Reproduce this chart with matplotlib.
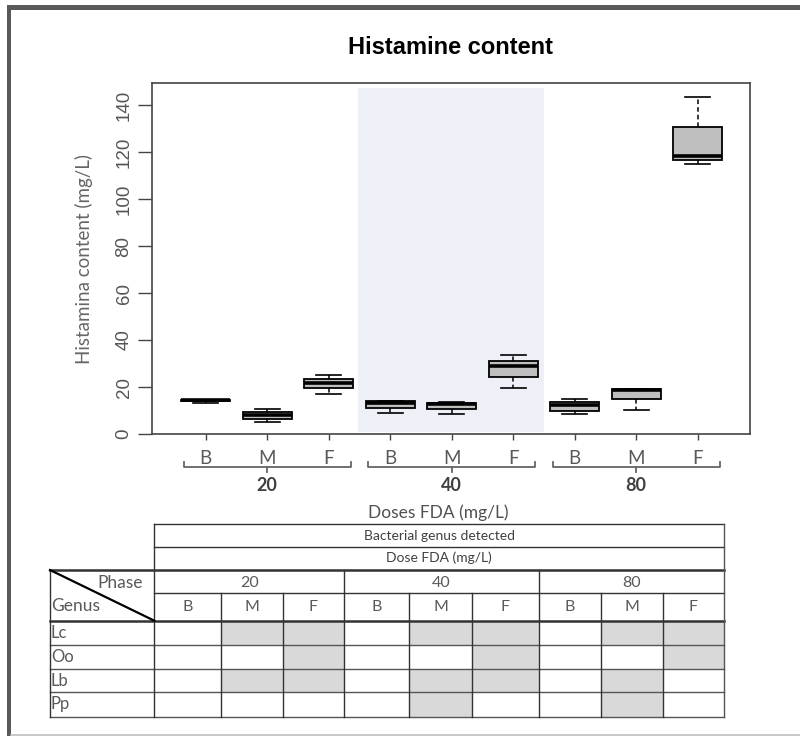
import matplotlib.pyplot as plt
from matplotlib.patches import Rectangle

# datos
doses = ["20", "40", "80"]
phases = ["B", "M", "F"]
q1 = [13.9, 6.2, 19.6, 11.1, 10.5, 24.3, 9.9, 14.8, 116.6]
med = [14.4, 8.2, 21.8, 13.3, 12.8, 28.9, 12.2, 18.9, 118.3]
q3 = [14.6, 9.4, 23.4, 13.9, 13.3, 31.1, 13.6, 19.0, 130.8]
whislo = [13.2, 5.1, 17.0, 9.1, 8.5, 19.6, 8.5, 10.2, 115.0]
whishi = [14.6, 10.8, 25.0, 13.9, 13.6, 33.5, 15.0, 19.0, 143.5]

genus = ["Lc", "Oo", "Lb", "Pp"]
detected = [
    [0, 1, 1, 0, 1, 1, 0, 1, 1],
    [0, 0, 1, 0, 0, 1, 0, 0, 1],
    [0, 1, 1, 0, 1, 1, 0, 1, 0],
    [0, 0, 0, 0, 1, 0, 0, 1, 0],
]

CAL = "Lato"
ARIAL = "Liberation Sans"
GRAY = "#595959"

fig = plt.figure(figsize=(8, 7.36), dpi=100)

# capa en pixeles para marco y tabla
ov = fig.add_axes([0, 0, 1, 1])
ov.set_xlim(0, 800)
ov.set_ylim(736, 0)
ov.axis("off")

# marco exterior
ov.add_patch(Rectangle((7, 5), 800, 5, color="#595959", lw=0))
ov.add_patch(Rectangle((7, 5), 4, 740, color="#595959", lw=0))
ov.plot([11, 800], [734.5, 734.5], color="#bdbdbd", lw=1.2)

# grafico de cajas
ax = fig.add_axes([152 / 800, 1 - 434 / 736, 598 / 800, 351 / 736])
pos = list(range(1, 10))
stats = []
for i in range(9):
    stats.append(dict(med=med[i], q1=q1[i], q3=q3[i], whislo=whislo[i],
                      whishi=whishi[i], fliers=[]))
ax.axvspan(3.48, 6.5, ymin=0.8 / 149.4, ymax=147.2 / 149.4, color="#edf0f7", lw=0, zorder=0)
ax.bxp(stats, positions=pos, widths=0.8, capwidths=0.41, patch_artist=True,
       boxprops=dict(facecolor="#bfbfbf", edgecolor="black", lw=1.3),
       medianprops=dict(color="black", lw=2.6),
       whiskerprops=dict(color="black", lw=1.1, ls=(0, (3, 2))),
       capprops=dict(color="black", lw=1.2))
ax.set_xlim(0.127, 9.85)
ax.set_ylim(0, 149.4)
for s in ax.spines.values():
    s.set_color("#444444")
    s.set_linewidth(1.2)

ax.set_yticks(range(0, 141, 20))
ax.tick_params(axis="y", length=10, width=1, color="#444444", pad=4,
               labelsize=13.5, labelcolor="#555555", labelrotation=90)
for t in ax.get_yticklabels():
    t.set_fontfamily(ARIAL)
    t.set_va("center")
ax.set_xticks(pos)
ax.set_xticklabels(phases * 3, fontfamily=CAL, fontsize=13.5, color=GRAY)
ax.tick_params(axis="x", length=4, width=1, color="#444444", pad=7.5)
ax.set_ylabel("Histamina content (mg/L)", fontfamily=CAL, fontsize=13.5,
              color="#666666", labelpad=16)

# corchetes de dosis
tr = ax.get_xaxis_transform()
for k, d in enumerate(doses):
    c = 2 + 3 * k
    ax.plot([c - 1.36, c - 1.36, c + 1.36, c + 1.36], [-0.080, -0.093, -0.093, -0.080],
            transform=tr, clip_on=False, color="#666666", lw=1.3)
    ax.plot([c, c], [-0.093, -0.107], transform=tr, clip_on=False, color="#666666", lw=1.3)
    ax.text(c, -0.146, d, transform=tr, ha="center", va="center", fontfamily=CAL,
            fontweight="bold", fontsize=13, color="#404040")

fig.text(451 / 800, 1 - 48 / 736, "Histamine content", ha="center", va="center",
         fontfamily=ARIAL, fontweight="bold", fontsize=17)
ov.text(438, 513, "Doses FDA (mg/L)", ha="center", va="center", fontfamily=CAL,
        fontsize=12.5, color="#505050")

# tabla de generos
cols = [154.3, 220.7, 282.7, 344.3, 409.3, 472.3, 538.7, 600.7, 662.7, 724]
rows = [620.7, 645, 669, 692.3, 716.7]
for r in range(len(genus)):
    for c in range(9):
        if detected[r][c]:
            ov.add_patch(Rectangle((cols[c], rows[r]), cols[c + 1] - cols[c],
                                   rows[r + 1] - rows[r], color="#d9d9d9", lw=0))
lc = "#333333"
for y in [524, 546.7, 593.3]:
    ov.plot([154.3, 724], [y, y], color=lc, lw=1)
for y in [570, 620.7]:
    ov.plot([50, 724], [y, y], color=lc, lw=1.8)
for y in rows[1:]:
    ov.plot([50, 724], [y, y], color="#555555", lw=1)
ov.plot([50, 50], [570, 716.7], color=lc, lw=1)
ov.plot([154.3, 154.3], [524, 716.7], color=lc, lw=1)
ov.plot([724, 724], [524, 716.7], color="#555555", lw=1)
for x in [344.3, 538.7]:
    ov.plot([x, x], [570, 716.7], color=lc, lw=1)
for x in [220.7, 282.7, 409.3, 472.3, 600.7, 662.7]:
    ov.plot([x, x], [593.3, 716.7], color=lc, lw=1)
ov.plot([50, 154.3], [570, 620.7], color="black", lw=1.6)

ov.text(439, 536, "Bacterial genus detected", ha="center", va="center",
        fontfamily=CAL, fontsize=10, color="#404040")
ov.text(439, 558, "Dose FDA (mg/L)", ha="center", va="center",
        fontfamily=CAL, fontsize=10, color="#404040")
for k, d in enumerate(doses):
    ov.text((cols[3 * k] + cols[3 * k + 3]) / 2, 583, d, ha="center", va="center",
            fontfamily=CAL, fontsize=11.5, color=GRAY)
    for j, p in enumerate(phases):
        c = 3 * k + j
        ov.text((cols[c] + cols[c + 1]) / 2, 607, p, ha="center", va="center",
                fontfamily=CAL, fontsize=11.5, color=GRAY)
ov.text(143, 583, "Phase", ha="right", va="center", fontfamily=CAL, fontsize=12.5, color=GRAY)
ov.text(51, 606, "Genus", ha="left", va="center", fontfamily=CAL, fontsize=12.5, color=GRAY)
for r, g in enumerate(genus):
    ov.text(51, (rows[r] + rows[r + 1]) / 2, g, ha="left", va="center",
            fontfamily=CAL, fontsize=12, color=GRAY)

fig.savefig("out.png", dpi=100)
